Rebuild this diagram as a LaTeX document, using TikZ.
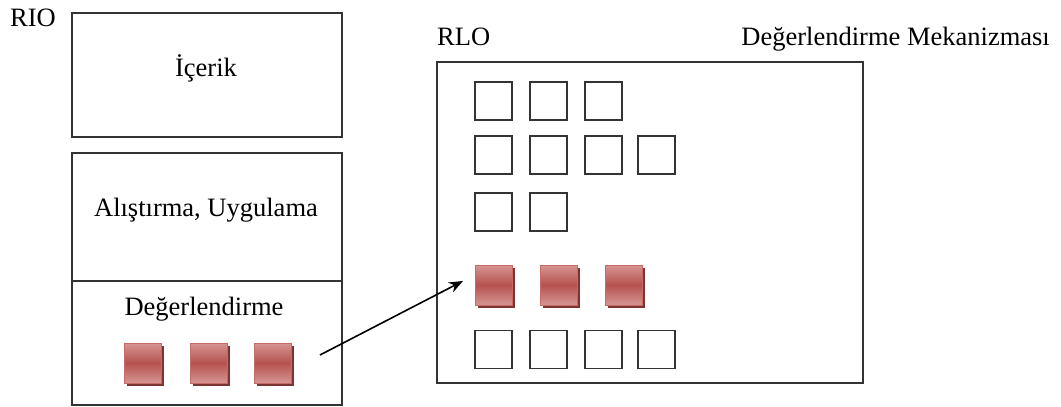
\documentclass[tikz,border=0pt]{standalone}
\usepackage{fontspec}
\setmainfont{Liberation Serif}
\usetikzlibrary{arrows.meta}
\definecolor{redmid}{HTML}{B5524F}
\definecolor{redlight}{HTML}{D69592}
\definecolor{redborder}{HTML}{C86A66}
\definecolor{redshadow}{HTML}{7A3533}
\definecolor{linegray}{HTML}{333333}
\tikzset{
  frame/.style={draw=linegray, line width=1.3pt},
  lbl/.style={font=\fontsize{26.5}{30}\selectfont, inner sep=0pt, anchor=base},
  emptysq/.style={draw=linegray, line width=1.1pt, minimum width=37pt, minimum height=38pt, inner sep=0pt},
  redsq/.style={draw=redborder, line width=1pt, minimum width=37pt, minimum height=40pt, inner sep=0pt,
    top color=redlight, bottom color=redlight, middle color=redmid,
    preaction={fill=redshadow, transform canvas={shift={(3pt,-3pt)}}}},
  arr/.style={-{Stealth[length=14pt,width=11pt]}, line width=1.6pt, black}
}
\begin{document}
\begin{tikzpicture}[x=1pt,y=-1pt]
\useasboundingbox (0,0) rectangle (1061,407);
% left boxes
\draw[frame] (72,13) rectangle (342,137);
\draw[frame] (72,153) rectangle (342,405);
\draw[frame] (72,281) -- (342,281);
\node[lbl] (rio) at (33,26) {RIO};
\node[lbl] (icerik) at (206,76) {İçerik};
\node[lbl] (alis) at (206,216) {Alıştırma, Uygulama};
\node[lbl] (deg) at (204,315) {Değerlendirme};
\node[redsq] (l1) at (142.5,363) {};
\node[redsq] (l2) at (208.5,363) {};
\node[redsq] (l3) at (272.5,363) {};
% right box
\node[lbl, anchor=base west] (rlo) at (437,45) {RLO};
\node[lbl, anchor=base east] (mek) at (1050,45) {Değerlendirme Mekanizması};
\draw[frame] (437,62) rectangle (863,383);
% row 1
\node[emptysq] (a1) at (493.5,101) {};
\node[emptysq] (a2) at (548.5,101) {};
\node[emptysq] (a3) at (603.5,101) {};
% row 2
\node[emptysq] (b1) at (493.5,155) {};
\node[emptysq] (b2) at (548.5,155) {};
\node[emptysq] (b3) at (603.5,155) {};
\node[emptysq] (b4) at (656.5,155) {};
% row 3
\node[emptysq] (c1) at (493.5,212) {};
\node[emptysq] (c2) at (548.5,212) {};
% red row
\node[redsq] (r1) at (493.5,285) {};
\node[redsq] (r2) at (558.5,285) {};
\node[redsq] (r3) at (623.5,285) {};
% row 5
\node[emptysq] (e1) at (493.5,349.5) {};
\node[emptysq] (e2) at (548.5,349.5) {};
\node[emptysq] (e3) at (603.5,349.5) {};
\node[emptysq] (e4) at (656.5,349.5) {};
% arrow
\coordinate (as) at (320,355);
\coordinate (ae) at (463,281);
\draw[arr] (as) -- (ae);
\end{tikzpicture}
\end{document}
